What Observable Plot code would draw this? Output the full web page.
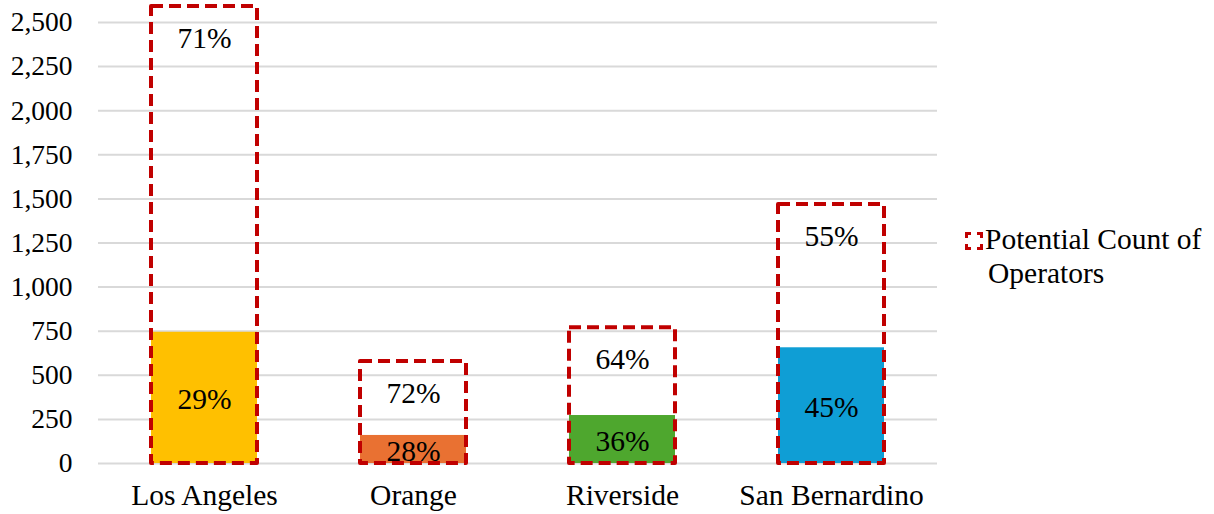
<!DOCTYPE html>
<html>
<head>
<meta charset="utf-8">
<script src="https://cdn.jsdelivr.net/npm/d3@7"></script>
<script src="https://cdn.jsdelivr.net/npm/@observablehq/plot@0.6"></script>
<style>
  html, body { margin: 0; padding: 0; background: #fff; }
  #wrap { position: relative; width: 1214px; height: 514px; }
  #legend { position: absolute; left: 965px; top: 222px; font-family: 'Liberation Serif', 'Times New Roman', serif; font-size: 29.5px; line-height: 34px; color: #000; }
  #legend .sw { display: inline-block; width: 12px; height: 12px; border: 3.5px dashed #c00000; margin-right: 2px; vertical-align: -1px; box-sizing: content-box; }
  #legend .l2 { padding-left: 23px; }
</style>
</head>
<body>
<div id="wrap"><div id="chart"></div><div id="legend"><div><span class="sw"></span>Potential Count of</div><div class="l2">Operators</div></div></div>
<script>
const counties = ["Los Angeles", "Orange", "Riverside", "San Bernardino"];
const potentialCount = [2590, 578, 769, 1468];
const actualCount = [744, 159, 272, 656];
const actualPct = ["29%", "28%", "36%", "45%"];
const remainingPct = ["71%", "72%", "64%", "55%"];
const barColors = ["#FFC000", "#E97132", "#4EA72E", "#0F9ED5"];
const yTicks = [0, 250, 500, 750, 1000, 1250, 1500, 1750, 2000, 2250, 2500];

const data = counties.map((c, i) => ({
  county: c,
  potential: potentialCount[i],
  actual: actualCount[i],
  actualPct: actualPct[i],
  remainingPct: remainingPct[i],
  color: barColors[i]
}));

const font = "'Liberation Serif', 'Times New Roman', serif";
const fs = 29.5;

const chart = Plot.plot({
  width: 950,
  height: 514,
  marginLeft: 98,
  marginRight: 13,
  marginTop: 22,
  marginBottom: 51,
  style: { fontFamily: font, fontSize: fs + "px", background: "#fff", color: "#000" },
  x: { domain: counties, paddingInner: 0.495, paddingOuter: 0.2475, label: null },
  y: { domain: [0, 2500], label: null },
  marks: [
    Plot.gridY(yTicks, { stroke: "#d9d9d9", strokeOpacity: 1, strokeWidth: 2 }),
    Plot.axisY(yTicks, { tickSize: 0, tickPadding: 26, tickFormat: d3.format(","), fontSize: 27.5, label: null }),
    Plot.axisX({ tickSize: 0, tickPadding: 21, fontSize: fs, label: null }),
    Plot.barY(data, { x: "county", y: "actual", fill: "color" }),
    Plot.barY(data, { x: "county", y: "potential", fill: "none", stroke: "#c00000", strokeWidth: 4, strokeDasharray: "12,6", strokeLinejoin: "round" }),
    Plot.text(data, { x: "county", y: "potential", text: "remainingPct", dy: 32, fontSize: fs, fill: "#000" }),
    Plot.text(data, { x: "county", y: d => d.actual / 2, text: "actualPct", dy: 2, fontSize: fs, fill: "#000" })
  ]
});
document.getElementById("chart").appendChild(chart);
</script>
</body>
</html>
